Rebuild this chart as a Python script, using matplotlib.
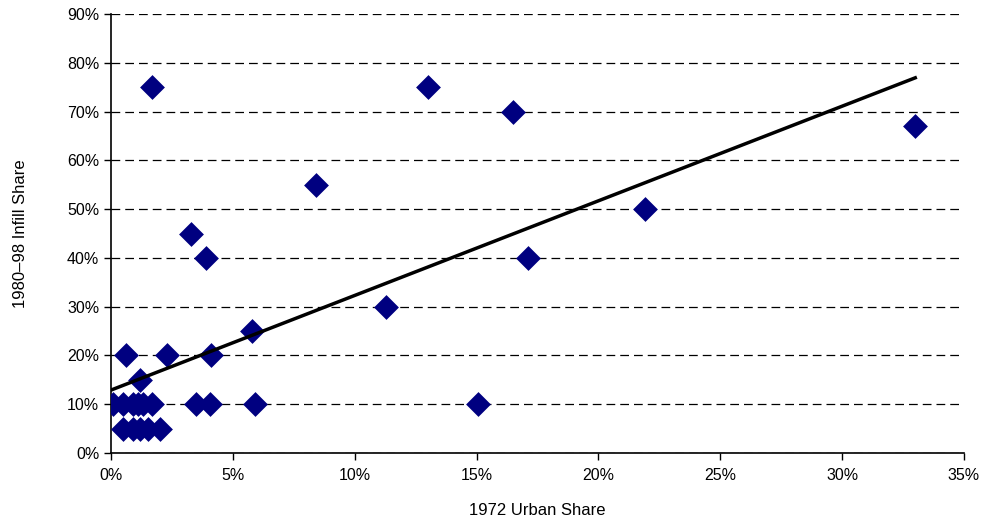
import matplotlib
matplotlib.use("Agg")
import matplotlib.pyplot as plt
import numpy as np
from matplotlib.ticker import PercentFormatter

urban_share = [1.7, 13.0, 16.5, 33.0, 8.4, 21.9, 3.3, 3.9, 17.1, 11.3, 5.8,
               0.6, 2.3, 4.1, 1.2,
               0.1, 0.5, 0.9, 1.1, 1.3, 1.7, 3.5, 4.05, 5.9, 15.05,
               0.5, 0.9, 1.2, 1.5, 2.0]
infill_share = [75, 75, 70, 67, 55, 50, 45, 40, 40, 30, 25,
                20, 20, 20, 15,
                10, 10, 10, 10, 10, 10, 10, 10, 10, 10,
                5, 5, 5, 5, 5]
trend_x = [0.0, 33.0]
trend_intercept = 12.9
trend_slope = 1.94

plt.rcParams['font.family'] = ['Liberation Sans', 'DejaVu Sans']

fig = plt.figure(figsize=(9.87, 5.25), dpi=100)
ax = fig.add_axes([111/987, 1-453/525, (964-111)/987, (453-14)/525])

ax.scatter(np.array(urban_share)/100, np.array(infill_share)/100, marker='D', s=160,
           color='#000080', zorder=3, linewidths=0)
tx = np.array(trend_x)
ax.plot(tx/100, (trend_intercept + trend_slope*tx)/100, color='black', lw=2.5, zorder=4)

ax.set_xlim(0, 0.35)
ax.set_ylim(0, 0.90)
ax.set_xticks(np.arange(0, 0.351, 0.05))
ax.set_yticks(np.arange(0, 0.901, 0.10))
ax.xaxis.set_major_formatter(PercentFormatter(1.0, decimals=0))
ax.yaxis.set_major_formatter(PercentFormatter(1.0, decimals=0))
ax.yaxis.grid(True, linestyle=(0, (7, 4)), color='black', lw=0.9)
ax.set_axisbelow(True)
for s in ['top', 'right']:
    ax.spines[s].set_visible(False)
for s in ['left', 'bottom']:
    ax.spines[s].set_linewidth(1.2)
ax.tick_params(axis='both', direction='out', length=5, labelsize=11.5, width=1)
ax.tick_params(axis='x', pad=6)
ax.set_xlabel('1972 Urban Share', fontsize=12, labelpad=14)
ax.set_ylabel('1980–98 Infill Share', fontsize=12, labelpad=28)

fig.savefig('out.png', dpi=100)
